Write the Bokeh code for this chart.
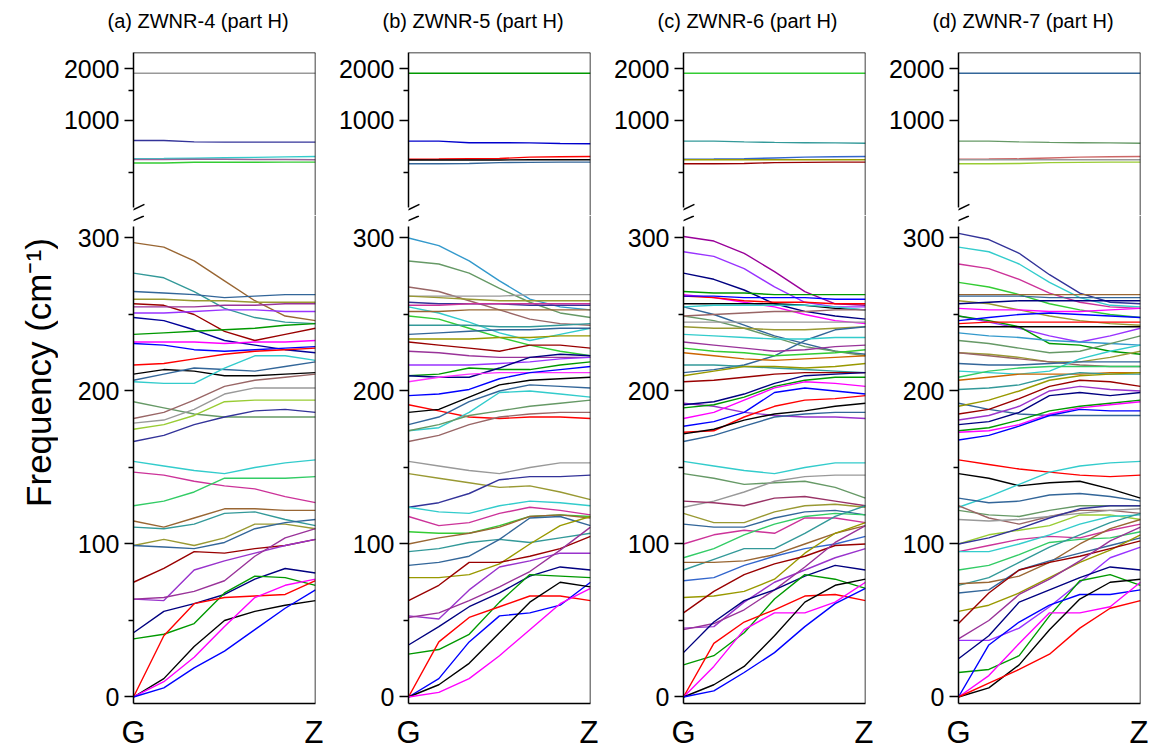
from math import pi
from bokeh.plotting import figure
from bokeh.layouts import row, column
from bokeh.models import Range1d, FixedTicker, BasicTickFormatter, Span, Arrow, ColumnDataSource
from bokeh.core.properties import value
from bokeh.embed import file_html
from bokeh.resources import INLINE

# ---------------- data ----------------
K_POINTS = [0.0, 0.1667, 0.3333, 0.5, 0.6667, 0.8333, 1.0]
K_TICKS = [0, 1]
K_LABELS = ["G", "Z"]
TITLES = ["(a) ZWNR-4 (part H)", "(b) ZWNR-5 (part H)", "(c) ZWNR-6 (part H)", "(d) ZWNR-7 (part H)"]
Y_LABEL = "Frequency (cm\u207b\u00b9)"
LOW_TICKS = [0, 100, 200, 300]
LOW_MINOR = [50, 150, 250]
HIGH_TICKS = [1000, 2000]
HIGH_MINOR = [500, 1500]

A_HIGH = [
    [1885, 1885, 1885, 1885, 1885, 1885, 1885],
    [765, 765, 750, 748, 748, 748, 748],
    [598, 600, 603, 606, 610, 614, 617],
    [593, 593, 594, 594, 593, 592, 590],
    [565, 565, 571, 571, 571, 572, 572],
]
A_LOW = [
    [297, 294, 285, 272, 259, 249, 246],
    [277, 274, 265, 254, 248, 245, 244],
    [265, 264, 263, 261, 262, 263, 263],
    [260, 260, 259, 259, 258, 258, 258],
    [257, 256, 250, 239, 233, 237, 241],
    [255, 255, 255, 256, 256, 257, 257],
    [251, 251, 252, 253, 253, 252, 252],
    [248, 246, 240, 233, 230, 227, 225],
    [237, 238, 239, 240, 241, 243, 244],
    [232, 232, 232, 231, 232, 232, 233],
    [231, 230, 227, 226, 227, 228, 229],
    [217, 218, 221, 224, 226, 227, 228],
    [211, 214, 213, 210, 210, 211, 212],
    [207, 211, 215, 214, 213, 216, 219],
    [206, 205, 205, 215, 223, 223, 220],
    [193, 189, 185, 183, 183, 183, 183],
    [182, 186, 194, 203, 207, 209, 211],
    [179, 181, 188, 198, 202, 202, 202],
    [175, 178, 184, 193, 194, 194, 194],
    [167, 171, 178, 183, 187, 188, 186],
    [154, 151, 148, 146, 150, 153, 155],
    [147, 145, 141, 138, 136, 131, 127],
    [125, 128, 134, 143, 143, 143, 144],
    [115, 111, 117, 123, 123, 122, 122],
    [111, 110, 113, 120, 121, 116, 112],
    [99, 103, 99, 104, 113, 113, 110],
    [99, 98, 97, 101, 110, 114, 116],
    [75, 84, 95, 94, 97, 99, 103],
    [64, 63, 83, 89, 94, 99, 103],
    [64, 65, 69, 76, 92, 104, 110],
    [42, 56, 61, 67, 77, 84, 81],
    [38, 41, 48, 68, 79, 78, 73],
    [0, 40, 61, 65, 66, 67, 76],
    [0, 12, 33, 50, 56, 60, 63],
    [0, 10, 26, 46, 65, 73, 77],
    [0, 6, 19, 30, 44, 58, 70],
]

B_HIGH = [
    [1885, 1885, 1885, 1885, 1885, 1885, 1885],
    [758, 758, 742, 742, 740, 735, 732],
    [595, 596, 598, 600, 612, 615, 617],
    [588, 588, 588, 589, 590, 590, 590],
    [560, 560, 562, 568, 570, 572, 572],
]
B_LOW = [
    [300, 295, 285, 272, 260, 255, 253],
    [285, 283, 277, 267, 258, 251, 248],
    [268, 265, 259, 253, 247, 244, 243],
    [262, 262, 262, 262, 263, 263, 263],
    [262, 261, 260, 259, 259, 259, 259],
    [258, 257, 257, 257, 256, 256, 256],
    [256, 256, 257, 257, 257, 257, 257],
    [255, 251, 245, 238, 233, 237, 241],
    [249, 247, 241, 235, 230, 226, 223],
    [252, 252, 253, 253, 253, 253, 253],
    [243, 243, 243, 242, 242, 243, 244],
    [237, 238, 239, 240, 240, 241, 241],
    [234, 234, 234, 235, 235, 236, 236],
    [232, 230, 228, 226, 230, 230, 228],
    [226, 225, 223, 222, 222, 222, 222],
    [217, 217, 217, 218, 219, 221, 222],
    [210, 211, 215, 214, 214, 217, 219],
    [210, 209, 209, 215, 222, 224, 223],
    [206, 209, 211, 212, 212, 212, 212],
    [197, 198, 201, 208, 212, 214, 216],
    [191, 187, 183, 182, 183, 183, 182],
    [186, 188, 196, 204, 207, 208, 209],
    [178, 183, 193, 200, 204, 203, 202],
    [174, 176, 186, 199, 200, 198, 196],
    [174, 178, 184, 187, 190, 192, 194],
    [167, 171, 178, 183, 185, 186, 186],
    [154, 151, 148, 146, 150, 153, 153],
    [146, 143, 140, 137, 138, 134, 129],
    [124, 127, 133, 142, 144, 144, 145],
    [124, 121, 120, 125, 128, 127, 125],
    [118, 112, 114, 120, 124, 122, 119],
    [108, 107, 107, 112, 118, 119, 118],
    [100, 104, 107, 111, 118, 119, 117],
    [95, 97, 101, 103, 101, 104, 107],
    [86, 88, 92, 103, 117, 118, 112],
    [78, 78, 80, 87, 100, 112, 118],
    [63, 73, 88, 88, 92, 97, 105],
    [53, 51, 70, 85, 89, 94, 94],
    [52, 55, 63, 72, 82, 96, 111],
    [34, 46, 59, 68, 79, 85, 83],
    [28, 31, 41, 62, 80, 79, 78],
    [0, 36, 52, 59, 66, 66, 63],
    [0, 12, 36, 53, 55, 60, 75],
    [0, 8, 22, 42, 62, 75, 72],
    [0, 3, 12, 27, 44, 61, 71],
]

C_HIGH = [
    [1885, 1885, 1885, 1885, 1885, 1885, 1885],
    [758, 758, 750, 745, 742, 740, 737],
    [595, 596, 598, 605, 612, 615, 617],
    [590, 590, 590, 590, 590, 590, 590],
    [560, 560, 562, 568, 570, 572, 572],
]
C_LOW = [
    [301, 298, 290, 278, 265, 257, 256],
    [291, 288, 280, 268, 258, 255, 255],
    [277, 273, 266, 257, 252, 249, 247],
    [265, 264, 264, 263, 263, 263, 263],
    [263, 261, 258, 255, 250, 246, 244],
    [262, 261, 259, 258, 258, 257, 257],
    [262, 262, 261, 261, 261, 260, 260],
    [257, 257, 257, 257, 256, 254, 253],
    [255, 250, 243, 236, 231, 226, 224],
    [255, 256, 256, 256, 256, 255, 253],
    [249, 246, 241, 235, 229, 226, 223],
    [249, 250, 251, 252, 252, 253, 253],
    [245, 245, 245, 245, 245, 245, 245],
    [242, 241, 241, 240, 240, 241, 242],
    [212, 214, 217, 223, 233, 240, 242],
    [237, 236, 235, 234, 234, 235, 235],
    [232, 230, 228, 226, 227, 229, 230],
    [228, 226, 225, 223, 224, 225, 227],
    [225, 223, 221, 220, 221, 222, 223],
    [217, 217, 216, 215, 214, 213, 212],
    [210, 213, 216, 216, 215, 216, 218],
    [206, 207, 209, 211, 212, 212, 212],
    [192, 190, 186, 184, 183, 183, 182],
    [191, 193, 198, 205, 210, 211, 212],
    [189, 191, 196, 203, 207, 209, 209],
    [182, 186, 194, 202, 206, 205, 203],
    [177, 180, 186, 199, 202, 200, 198],
    [173, 174, 183, 190, 194, 195, 197],
    [172, 175, 181, 185, 187, 190, 192],
    [167, 171, 177, 183, 185, 186, 186],
    [154, 151, 148, 146, 150, 153, 153],
    [146, 143, 139, 140, 141, 137, 130],
    [124, 128, 134, 141, 144, 145, 145],
    [128, 127, 125, 130, 131, 128, 125],
    [120, 114, 114, 121, 125, 126, 124],
    [113, 111, 111, 117, 121, 122, 119],
    [100, 106, 109, 107, 117, 117, 114],
    [91, 97, 106, 113, 118, 120, 119],
    [83, 90, 97, 97, 107, 118, 125],
    [88, 88, 89, 93, 100, 107, 112],
    [76, 78, 86, 92, 97, 100, 105],
    [65, 66, 69, 77, 94, 107, 114],
    [55, 69, 80, 87, 92, 99, 100],
    [45, 46, 62, 75, 83, 91, 97],
    [44, 48, 57, 70, 85, 101, 112],
    [29, 49, 63, 70, 79, 86, 83],
    [21, 27, 42, 64, 80, 77, 71],
    [0, 35, 49, 57, 66, 67, 63],
    [0, 20, 44, 55, 55, 62, 75],
    [0, 8, 20, 40, 62, 73, 77],
    [0, 4, 16, 29, 46, 61, 71],
]

D_HIGH = [
    [1885, 1885, 1885, 1885, 1885, 1885, 1885],
    [758, 758, 750, 745, 742, 740, 737],
    [595, 596, 598, 605, 612, 615, 617],
    [590, 590, 590, 590, 590, 590, 590],
    [560, 560, 562, 568, 570, 572, 572],
]
D_LOW = [
    [303, 299, 290, 276, 264, 258, 257],
    [294, 291, 283, 271, 261, 256, 255],
    [283, 280, 273, 264, 258, 255, 254],
    [271, 268, 263, 257, 253, 250, 248],
    [263, 263, 263, 263, 263, 263, 263],
    [262, 262, 262, 261, 261, 261, 261],
    [259, 257, 253, 249, 246, 244, 243],
    [257, 258, 259, 259, 259, 259, 259],
    [254, 253, 253, 252, 252, 253, 254],
    [249, 245, 241, 236, 232, 236, 241],
    [249, 246, 242, 231, 230, 226, 224],
    [246, 248, 250, 251, 250, 249, 248],
    [244, 245, 245, 245, 245, 245, 245],
    [242, 242, 242, 242, 242, 242, 242],
    [238, 236, 235, 233, 232, 231, 230],
    [233, 231, 228, 225, 226, 231, 236],
    [225, 224, 222, 219, 219, 222, 226],
    [225, 223, 221, 219, 217, 216, 216],
    [218, 217, 217, 218, 219, 219, 219],
    [213, 212, 211, 213, 221, 226, 230],
    [209, 213, 215, 216, 216, 216, 216],
    [207, 209, 211, 211, 211, 212, 212],
    [201, 202, 204, 209, 212, 211, 211],
    [192, 188, 185, 184, 184, 184, 184],
    [190, 194, 200, 207, 210, 211, 212],
    [185, 188, 195, 203, 207, 206, 203],
    [181, 184, 190, 200, 203, 201, 200],
    [178, 180, 186, 197, 199, 197, 199],
    [174, 176, 181, 187, 190, 192, 194],
    [173, 174, 178, 185, 189, 191, 193],
    [168, 171, 177, 184, 188, 187, 187],
    [155, 152, 149, 147, 145, 144, 145],
    [146, 143, 138, 140, 141, 136, 130],
    [124, 131, 139, 147, 151, 153, 154],
    [130, 127, 128, 132, 133, 131, 128],
    [122, 119, 118, 122, 125, 125, 125],
    [125, 117, 113, 118, 122, 122, 120],
    [116, 115, 116, 118, 120, 122, 123],
    [100, 106, 109, 112, 119, 119, 116],
    [100, 104, 110, 117, 123, 125, 125],
    [95, 99, 103, 105, 104, 109, 113],
    [95, 95, 100, 106, 113, 118, 119],
    [83, 86, 93, 101, 103, 104, 108],
    [73, 78, 88, 98, 106, 114, 120],
    [74, 75, 79, 88, 100, 110, 116],
    [68, 70, 83, 89, 94, 99, 104],
    [56, 60, 68, 78, 88, 96, 106],
    [48, 68, 83, 88, 92, 97, 102],
    [38, 50, 67, 77, 89, 102, 111],
    [37, 37, 45, 59, 75, 91, 98],
    [25, 40, 62, 70, 78, 85, 83],
    [16, 18, 27, 53, 76, 80, 73],
    [0, 34, 49, 60, 67, 67, 70],
    [0, 14, 35, 55, 55, 59, 75],
    [0, 6, 21, 44, 64, 75, 77],
    [0, 9, 18, 28, 45, 58, 63],
]

# ---------------- styles ----------------
A_HIGH_COLORS = ["#999999", "#333399", "#33CCCC", "#996699", "#33CC33"]
A_LOW_COLORS = ["#996633", "#339999", "#336699", "#999933", "#990000", "#993399", "#9933FF",
                "#000099", "#009900", "#FF00FF", "#0000FF", "#FF0000", "#000000", "#336699",
                "#33CCCC", "#669966", "#996666", "#999999", "#99CC33", "#333399", "#33CCCC",
                "#CC3399", "#33CC66", "#996633", "#339999", "#999933", "#336699", "#990000",
                "#9933CC", "#993399", "#000080", "#009900", "#FF0000", "#000000", "#FF00FF",
                "#0000FF"]
B_HIGH_COLORS = ["#009900", "#0000CC", "#FF0000", "#000000", "#336699"]
B_LOW_COLORS = ["#3399CC", "#669966", "#996666", "#999999", "#999933", "#333399", "#CC3399",
                "#33CCCC", "#33CC33", "#996633", "#339999", "#336699", "#999900", "#990000",
                "#993399", "#9933FF", "#009900", "#000080", "#FF33FF", "#0000FF", "#FF0000",
                "#000000", "#336699", "#33CCCC", "#669966", "#996666", "#999999", "#999933",
                "#333399", "#33CCCC", "#CC3399", "#33CC33", "#996633", "#339999", "#336699",
                "#999900", "#990000", "#9933CC", "#993399", "#000080", "#009900", "#FF0000",
                "#0000FF", "#000000", "#FF00FF"]
C_HIGH_COLORS = ["#33CC33", "#339999", "#3366CC", "#999900", "#990000"]
C_LOW_COLORS = ["#990099", "#9933FF", "#000080", "#009900", "#FF00FF", "#FF0000", "#0000FF",
                "#000000", "#336699", "#33CCCC", "#669966", "#996666", "#999999", "#999933",
                "#336699", "#33CCCC", "#993399", "#33CC33", "#CC6600", "#339999", "#999900",
                "#990000", "#9933CC", "#000080", "#009900", "#FF00FF", "#0000FF", "#FF0000",
                "#000000", "#336699", "#33CCCC", "#669966", "#999999", "#993366", "#999933",
                "#336699", "#CC3399", "#33CC66", "#339999", "#996633", "#3366CC", "#999900",
                "#990000", "#9933CC", "#993399", "#000080", "#009900", "#FF0000", "#FF00FF",
                "#000000", "#0000FF"]
D_HIGH_COLORS = ["#336699", "#669966", "#CC6666", "#999999", "#99CC33"]
D_LOW_COLORS = ["#333399", "#33CCCC", "#CC3399", "#33CC33", "#996633", "#336699", "#999933",
                "#000080", "#FF00FF", "#9933FF", "#009900", "#0000FF", "#FF0000", "#000000",
                "#3399CC", "#669966", "#999933", "#996666", "#336699", "#33CCCC", "#33CC66",
                "#CC6600", "#339999", "#336699", "#999900", "#990000", "#9933CC", "#000080",
                "#009900", "#FF00FF", "#0000FF", "#FF0000", "#000000", "#33CCCC", "#336699",
                "#669966", "#996666", "#999999", "#99CC33", "#333399", "#CC3399", "#33CCCC",
                "#33CC66", "#339999", "#996633", "#336699", "#999900", "#990000", "#993399",
                "#9933FF", "#000080", "#009900", "#0000FF", "#FF00FF", "#000000", "#FF0000"]

FONT = "Liberation Sans"
UP_RANGE = (279.6, 2488.0)
UP_AXIS_BOUNDS = (311.0, 2488.0)
LOW_RANGE = (-4.25, 314.7)
LOW_AXIS_BOUNDS = (-4.25, 307.5)
FRAME_W = 182
UP_H = 163
LOW_H = 488
TITLE_H = 40
TOP_BORDER = 12
BOTTOM_BORDER = 42
RIGHT_BORDER = 8
LAB_W = 58
LEFT_BORDERS = [75, 85, 85, 85]
LINE_W = 1.5


def style_yaxis(ax, ticks, minor):
    ax.ticker = FixedTicker(ticks=ticks, minor_ticks=minor)
    ax.formatter = BasicTickFormatter()
    ax.axis_line_width = LINE_W
    ax.major_tick_line_width = LINE_W
    ax.minor_tick_line_width = LINE_W
    ax.major_tick_out = 9
    ax.major_tick_in = 0
    ax.minor_tick_out = 5
    ax.minor_tick_in = 0
    ax.major_label_text_font = FONT
    ax.major_label_text_font_size = "25px"
    ax.major_label_text_color = "black"
    ax.major_label_standoff = 5


def make_panel(high, high_colors, low, low_colors, left_border):
    up = figure(frame_width=FRAME_W, frame_height=UP_H, output_backend="svg", toolbar_location=None,
                x_range=Range1d(0, 1), y_range=Range1d(*UP_RANGE), y_axis_type="log",
                x_axis_location=None, min_border_left=left_border, min_border_right=RIGHT_BORDER,
                min_border_top=TOP_BORDER, min_border_bottom=0, outline_line_color=None)
    up.grid.visible = False
    style_yaxis(up.yaxis[0], HIGH_TICKS, HIGH_MINOR)
    up.yaxis[0].bounds = UP_AXIS_BOUNDS
    src = ColumnDataSource(dict(xs=[K_POINTS] * len(high), ys=high, c=high_colors))
    up.multi_line(xs="xs", ys="ys", line_color="c", line_width=1.4, source=src)
    up.add_layout(Span(location=UP_RANGE[1], dimension="width", line_color="black", line_width=LINE_W))
    up.add_layout(Span(location=1, dimension="height", line_color="black", line_width=LINE_W))
    up.add_layout(Arrow(end=None, x_start=-0.057, y_start=283.4, x_end=0.060, y_end=324.4,
                        line_color="black", line_width=LINE_W))

    lo = figure(frame_width=FRAME_W, frame_height=LOW_H, output_backend="svg", toolbar_location=None,
                x_range=Range1d(0, 1), y_range=Range1d(*LOW_RANGE),
                min_border_left=left_border, min_border_right=RIGHT_BORDER, min_border_top=0,
                min_border_bottom=BOTTOM_BORDER, outline_line_color=None)
    lo.grid.visible = False
    style_yaxis(lo.yaxis[0], LOW_TICKS, LOW_MINOR)
    lo.yaxis[0].bounds = LOW_AXIS_BOUNDS
    xa = lo.xaxis[0]
    xa.ticker = FixedTicker(ticks=K_TICKS, minor_ticks=[])
    xa.major_label_overrides = {t: l for t, l in zip(K_TICKS, K_LABELS)}
    xa.axis_line_width = LINE_W
    xa.major_tick_out = 0
    xa.major_tick_in = 0
    xa.minor_tick_out = 0
    xa.major_tick_line_color = None
    xa.major_label_text_font = FONT
    xa.major_label_text_font_size = "31px"
    xa.major_label_text_color = "black"
    xa.major_label_standoff = 11
    src2 = ColumnDataSource(dict(xs=[K_POINTS] * len(low), ys=low, c=low_colors))
    lo.multi_line(xs="xs", ys="ys", line_color="c", line_width=1.4, source=src2)
    lo.add_layout(Span(location=1, dimension="height", line_color="black", line_width=LINE_W))
    lo.add_layout(Arrow(end=None, x_start=-0.053, y_start=308.6, x_end=0.057, y_end=314.4,
                        line_color="black", line_width=LINE_W))
    return column(up, lo, spacing=0)


# title strip across the full width
total_w = LAB_W + sum(LEFT_BORDERS) + 4 * (FRAME_W + RIGHT_BORDER)
title_x = []
acc = LAB_W
for lb in LEFT_BORDERS:
    title_x.append(acc + lb - 26)
    acc += lb + FRAME_W + RIGHT_BORDER
head = figure(width=total_w, height=TITLE_H, x_range=Range1d(0, total_w), y_range=Range1d(0, TITLE_H),
              min_border=0, outline_line_color=None, toolbar_location=None, output_backend="svg",
              x_axis_location=None, y_axis_location=None)
head.grid.visible = False
head.text(x=title_x, y=[TITLE_H - 20] * 4, text=TITLES, text_align="left", text_baseline="middle",
          text_font=value(FONT), text_font_size="20px", text_color="black")

body_h = TOP_BORDER + UP_H + LOW_H + BOTTOM_BORDER
lab = figure(width=LAB_W, height=body_h, x_range=Range1d(0, 1),
             y_range=Range1d(0, 1), min_border=0, outline_line_color=None, toolbar_location=None,
             output_backend="svg", x_axis_location=None, y_axis_location=None)
lab.grid.visible = False
lab.text(x=[0.66], y=[0.529], text=[Y_LABEL], angle=pi / 2, text_align="center",
         text_baseline="middle", text_font=value(FONT), text_font_size="35px", text_color="black")

panels = [
    make_panel(A_HIGH, A_HIGH_COLORS, A_LOW, A_LOW_COLORS, LEFT_BORDERS[0]),
    make_panel(B_HIGH, B_HIGH_COLORS, B_LOW, B_LOW_COLORS, LEFT_BORDERS[1]),
    make_panel(C_HIGH, C_HIGH_COLORS, C_LOW, C_LOW_COLORS, LEFT_BORDERS[2]),
    make_panel(D_HIGH, D_HIGH_COLORS, D_LOW, D_LOW_COLORS, LEFT_BORDERS[3]),
]
p = column(head, row([lab] + panels, spacing=0), spacing=0)

open("out.html", "w").write(file_html(p, INLINE))
